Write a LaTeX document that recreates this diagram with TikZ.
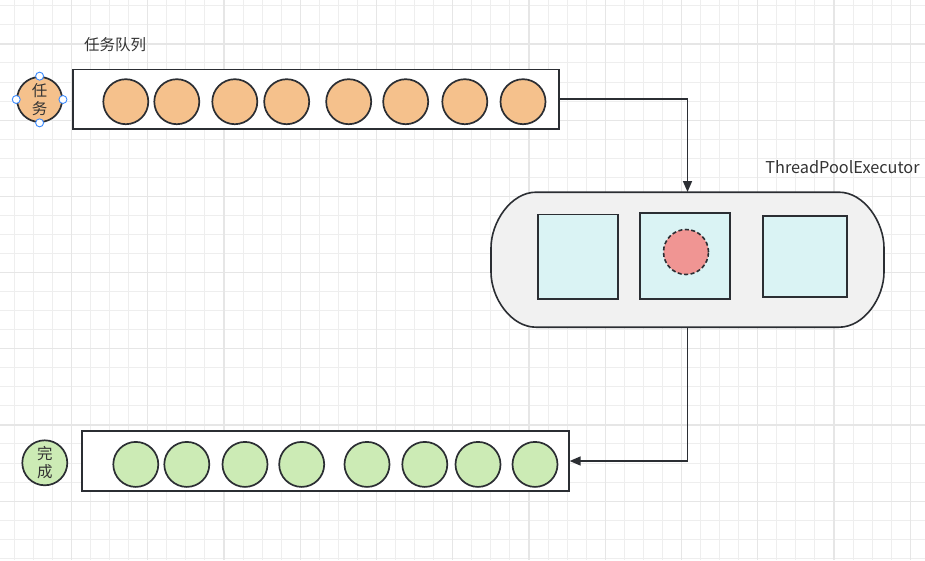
\documentclass[tikz,border=0pt]{standalone}
\usepackage{fontspec}
\setmainfont{Noto Sans CJK SC}
\usetikzlibrary{arrows.meta}
\definecolor{gridminor}{HTML}{EEEEEE}
\definecolor{gridmajor}{HTML}{E6E6E6}
\definecolor{ink}{HTML}{2B2E33}
\definecolor{txt}{HTML}{333333}
\definecolor{orangefill}{HTML}{F5C18C}
\definecolor{greenfill}{HTML}{CCEBB5}
\definecolor{cyanfill}{HTML}{DAF3F4}
\definecolor{poolfill}{HTML}{F1F1F1}
\definecolor{redfill}{HTML}{F09593}
\definecolor{handle}{HTML}{3D8BFD}
\begin{document}
\begin{tikzpicture}[x=1pt,y=-1pt,
  ball/.style={circle,draw=ink,line width=1.7pt,minimum size=45pt,inner sep=0pt},
  task/.style={ball,fill=orangefill},
  fin/.style={ball,fill=greenfill},
  queuebox/.style={rectangle,draw=ink,line width=1.9pt,fill=white,inner sep=0pt},
  worker/.style={rectangle,draw=ink,line width=1.7pt,fill=cyanfill,inner sep=0pt},
  hnd/.style={circle,draw=handle,fill=white,line width=0.9pt,minimum size=8pt,inner sep=0pt},
  arr/.style={draw=ink,line width=1.6pt,-{Triangle[length=11pt,width=9pt]}},
  lbl/.style={text=txt,font=\fontsize{15.5}{18}\selectfont,inner sep=0pt},
  legendtxt/.style={align=center,text=txt,font=\fontsize{15.5}{18.5}\selectfont}
]
\useasboundingbox (0,0) rectangle (925,560);
\fill[white] (0,0) rectangle (925,560);
% grid
\foreach \i in {1,...,49}{
  \pgfmathsetmacro\xx{-4.75+19.0625*\i}
  \draw[gridminor,line width=1pt] (\xx,0) -- (\xx,560);
}
\foreach \i in {1,...,31}{
  \pgfmathsetmacro\yy{-32.3+19.05*\i}
  \draw[gridminor,line width=1pt] (0,\yy) -- (925,\yy);
}
\foreach \i in {0,...,12}{
  \pgfmathsetmacro\xx{-4.75+76.25*\i}
  \draw[gridmajor,line width=1.2pt] (\xx,0) -- (\xx,560);
}
\foreach \i in {0,...,7}{
  \pgfmathsetmacro\yy{-32.3+76.2*\i}
  \draw[gridmajor,line width=1.2pt] (0,\yy) -- (925,\yy);
}

% labels
\node[lbl] (qlabel) at (115,44.5) {任务队列};
\node[lbl,font=\fontsize{16.3}{19}\selectfont] (plabel) at (842.5,167) {ThreadPoolExecutor};

% task legend circle
\node[task,legendtxt] (tasklegend) at (39.6,99.5) {任\\务};
\node[hnd] (h1) at (tasklegend.north) {};
\node[hnd] (h2) at (tasklegend.south) {};
\node[hnd] (h3) at (tasklegend.west) {};
\node[hnd] (h4) at (tasklegend.east) {};

% task queue
\node[queuebox,minimum width=486pt,minimum height=59.4pt] (queue) at (315.7,99.2) {};
\foreach \n/\x in {1/125.8,2/176.8,3/234.8,4/286.7,5/348.7,6/405.7,7/464.8,8/523}{
  \node[task] (t\n) at (\x,101.7) {};
}

% thread pool
\node[minimum width=393pt,minimum height=135pt,inner sep=0pt] (pool) at (687.5,259.7) {};
\draw[ink,line width=1.6pt,fill=poolfill]
  (536,192.2) -- (839,192.2)
  .. controls (864,192.2) and (884,222) .. (884,248)
  -- (884,272)
  .. controls (884,298) and (864,327.2) .. (839,327.2)
  -- (536,327.2)
  .. controls (511,327.2) and (491,298) .. (491,272)
  -- (491,248)
  .. controls (491,222) and (511,192.2) .. (536,192.2) -- cycle;
\node[worker,minimum width=80pt,minimum height=84.7pt] (w1) at (578.3,256.7) {};
\node[worker,minimum width=90pt,minimum height=85.7pt] (w2) at (685.3,255.9) {};
\node[worker,minimum width=83.4pt,minimum height=80.4pt] (w3) at (805,256.5) {};
\node[circle,draw=ink,line width=1.6pt,dash pattern=on 4pt off 2.5pt,fill=redfill,minimum size=45pt,inner sep=0pt] (running) at (686,252) {};

% done legend
\node[fin,legendtxt] (donelegend) at (44.8,462.8) {完\\成};

% done queue
\node[queuebox,minimum width=486.4pt,minimum height=60pt] (done) at (325.5,461) {};
\foreach \n/\x in {1/135.8,2/186.8,3/245,4/301.7,5/367,6/424.8,7/478,8/535}{
  \node[fin] (d\n) at (\x,464.4) {};
}

% connectors
\draw[arr] (queue.east) -| (pool.north);
\draw[arr] (pool.south) |- (done.east);
\end{tikzpicture}
\end{document}
